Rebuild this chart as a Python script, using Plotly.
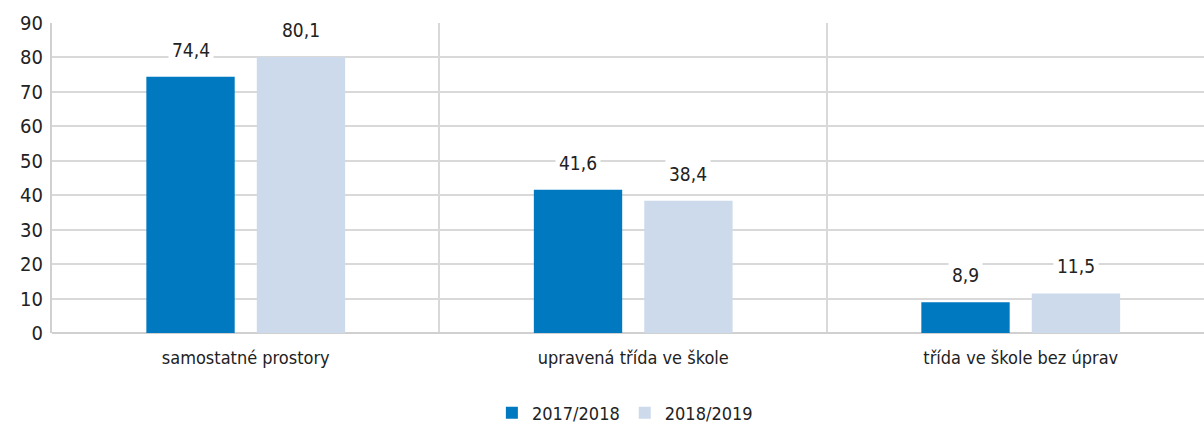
import plotly.graph_objects as go

categories = ["samostatné prostory", "upravená třída ve škole", "třída ve škole bez úprav"]
series_names = ["2017/2018", "2018/2019"]
values_2017 = [74.4, 41.6, 8.9]
values_2018 = [80.1, 38.4, 11.5]
colors = ["#0079C1", "#CCDAEC"]
y_ticks = [0, 10, 20, 30, 40, 50, 60, 70, 80, 90]

FONT = "DejaVu Sans Condensed, Liberation Sans Narrow, sans-serif"
bargap = 0.43
bargroupgap = 0.2

fig = go.Figure()
series = [values_2017, values_2018]
for name, vals, col in zip(series_names, series, colors):
    fig.add_trace(go.Bar(x=categories, y=vals, name=name, marker=dict(color=col, line=dict(width=0))))

# data labels with white background, positioned over each bar
slot = (1 - bargap) / len(series)
for si, vals in enumerate(series):
    off = -(1 - bargap) / 2 + slot * (si + 0.5)
    for ci, v in enumerate(vals):
        fig.add_annotation(x=ci + off, y=v, xref="x", yref="y",
                           text=f"{v:.1f}".replace(".", ","), showarrow=False,
                           yanchor="bottom", yshift=12, bgcolor="white",
                           borderpad=3,
                           font=dict(family=FONT, size=19, color="#222222"))

fig.update_layout(
    width=1204, height=425,
    margin=dict(l=52, r=0, t=23, b=92),
    paper_bgcolor="white", plot_bgcolor="white",
    barmode="group", bargap=bargap, bargroupgap=bargroupgap,
    font=dict(family=FONT, size=18, color="#222222"),
    showlegend=True,
    legend=dict(orientation="h", x=0.519, xanchor="center", xref="container",
                y=0.028, yanchor="middle", yref="container",
                font=dict(family=FONT, size=18, color="#222222"), itemwidth=30,
                traceorder="normal"),
    xaxis=dict(type="category", range=[-0.5, 2.473], tickson="boundaries",
               showgrid=True, gridcolor="#D9D9D9", gridwidth=2, automargin=False,
               showline=False, ticks="", ticklabelstandoff=12,
               tickfont=dict(family=FONT, size=18, color="#222222"),
               fixedrange=True),
    yaxis=dict(range=[0, 90], tickvals=y_ticks, showgrid=True, gridcolor="#D9D9D9",
               gridwidth=2, zeroline=True, zerolinecolor="#D0D0D0", zerolinewidth=2,
               showline=True, linecolor="#D0D0D0", linewidth=2, ticks="",
               automargin=False, ticklabelstandoff=3,
               tickfont=dict(family=FONT, size=20, color="#222222")),
)

fig.write_html("out.html", config={"displayModeBar": False},
               post_script="document.body.style.margin='0';document.body.style.overflow='hidden';")
